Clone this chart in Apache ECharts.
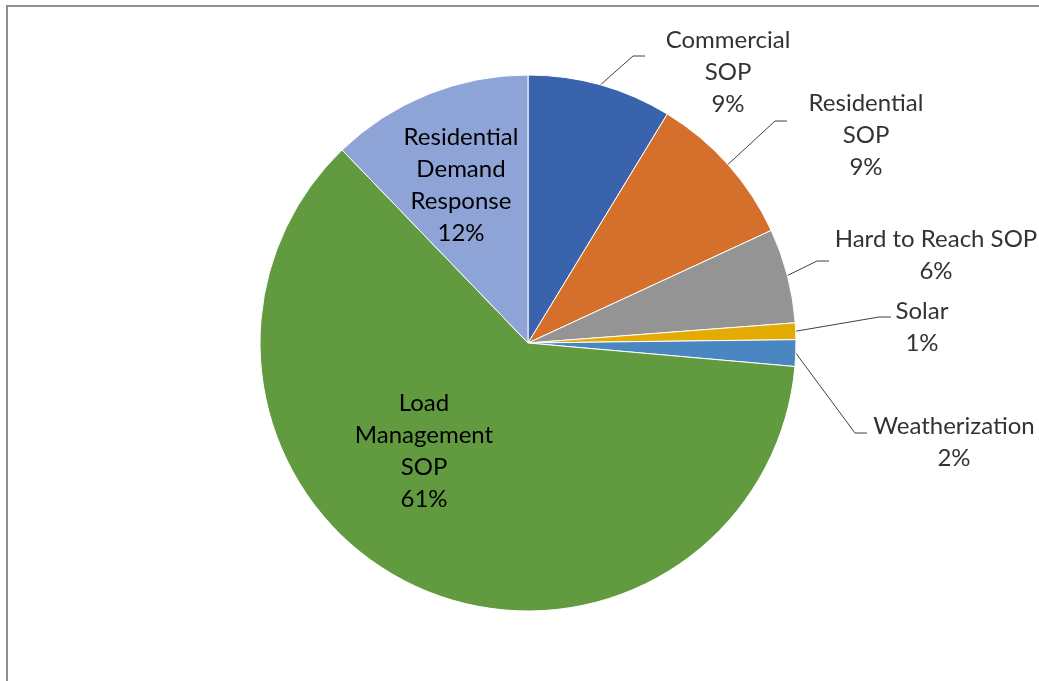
<!DOCTYPE html>
<html>
<head>
<meta charset="utf-8">
<script src="https://cdn.jsdelivr.net/npm/echarts@6/dist/echarts.min.js"></script>
<style>
    html, body {margin: 0; padding: 0; background: #fff;}
    #frame {position: absolute; left: 6px; top: 5px; right: 0; bottom: 0; border-top: 2px solid #8f8f8f; border-left: 2px solid #8f8f8f;}
    #main {position: absolute; left: 0; top: 0; width: 1039px; height: 681px;}
</style>
</head>
<body>
<div id="frame"></div>
<div id="main"></div>
<script>
// 各项目名称（按图中换行）
const categories = [
    'Commercial\nSOP',
    'Residential\nSOP',
    'Hard to Reach SOP',
    'Solar',
    'Weatherization',
    'Load\nManagement\nSOP',
    'Residential\nDemand\nResponse'
];
// 占比（%），从图中扇区角度估读
const shares = [8.7, 9.4, 5.7, 1.0, 1.6, 61.4, 12.2];
const colors = ['#3a63ad', '#d4702b', '#949494', '#e4ab04', '#4a87c2', '#629a3f', '#8fa4d6'];
// 哪些标签放在扇区里面
const insideLabel = [false, false, false, false, false, true, true];

// 标签位置 [x, y, 引导线终点x, 引导线终点y]
const labelPos = [
    [728, 72, 645, 56],
    [866, 135, 787, 121],
    [936, 255, 829, 261],
    [922, 327, 891, 317],
    [954, 442, 867, 433],
    [424, 451],
    [461, 185]
];

const pieCenter = [528, 343];
const pieRadius = 268;

const myChart = echarts.init(document.getElementById('main'));

const seriesData = categories.map(function (name, i) {
    const item = {
        name: name,
        value: shares[i],
        itemStyle: {color: colors[i]}
    };
    if (insideLabel[i]) {
        item.label = {position: 'inside', color: '#000'};
        item.labelLine = {show: false};
    }
    return item;
});

myChart.setOption({
    backgroundColor: 'transparent',
    animation: false,
    series: [
        {
            type: 'pie',
            center: pieCenter,
            radius: pieRadius,
            startAngle: 90,
            clockwise: true,
            percentPrecision: 0,
            avoidLabelOverlap: false,
            itemStyle: {
                borderColor: '#ffffff',
                borderWidth: 1
            },
            label: {
                show: true,
                position: 'outside',
                formatter: '{b}\n{d}%',
                fontFamily: 'Lato',
                fontSize: 24,
                lineHeight: 32,
                color: '#333333'
            },
            labelLine: {
                show: true,
                length: 20,
                length2: 12,
                lineStyle: {color: '#404040', width: 1}
            },
            labelLayout: function (params) {
                const p = labelPos[params.dataIndex];
                const out = {x: p[0], y: p[1], align: 'center', verticalAlign: 'middle'};
                if (p.length > 2 && params.labelLinePoints) {
                    const anchor = params.labelLinePoints[0];
                    out.labelLinePoints = [
                        anchor,
                        [p[2] - 12, p[3]],
                        [p[2], p[3]]
                    ];
                }
                return out;
            },
            data: seriesData
        }
    ]
});
</script>
</body>
</html>
